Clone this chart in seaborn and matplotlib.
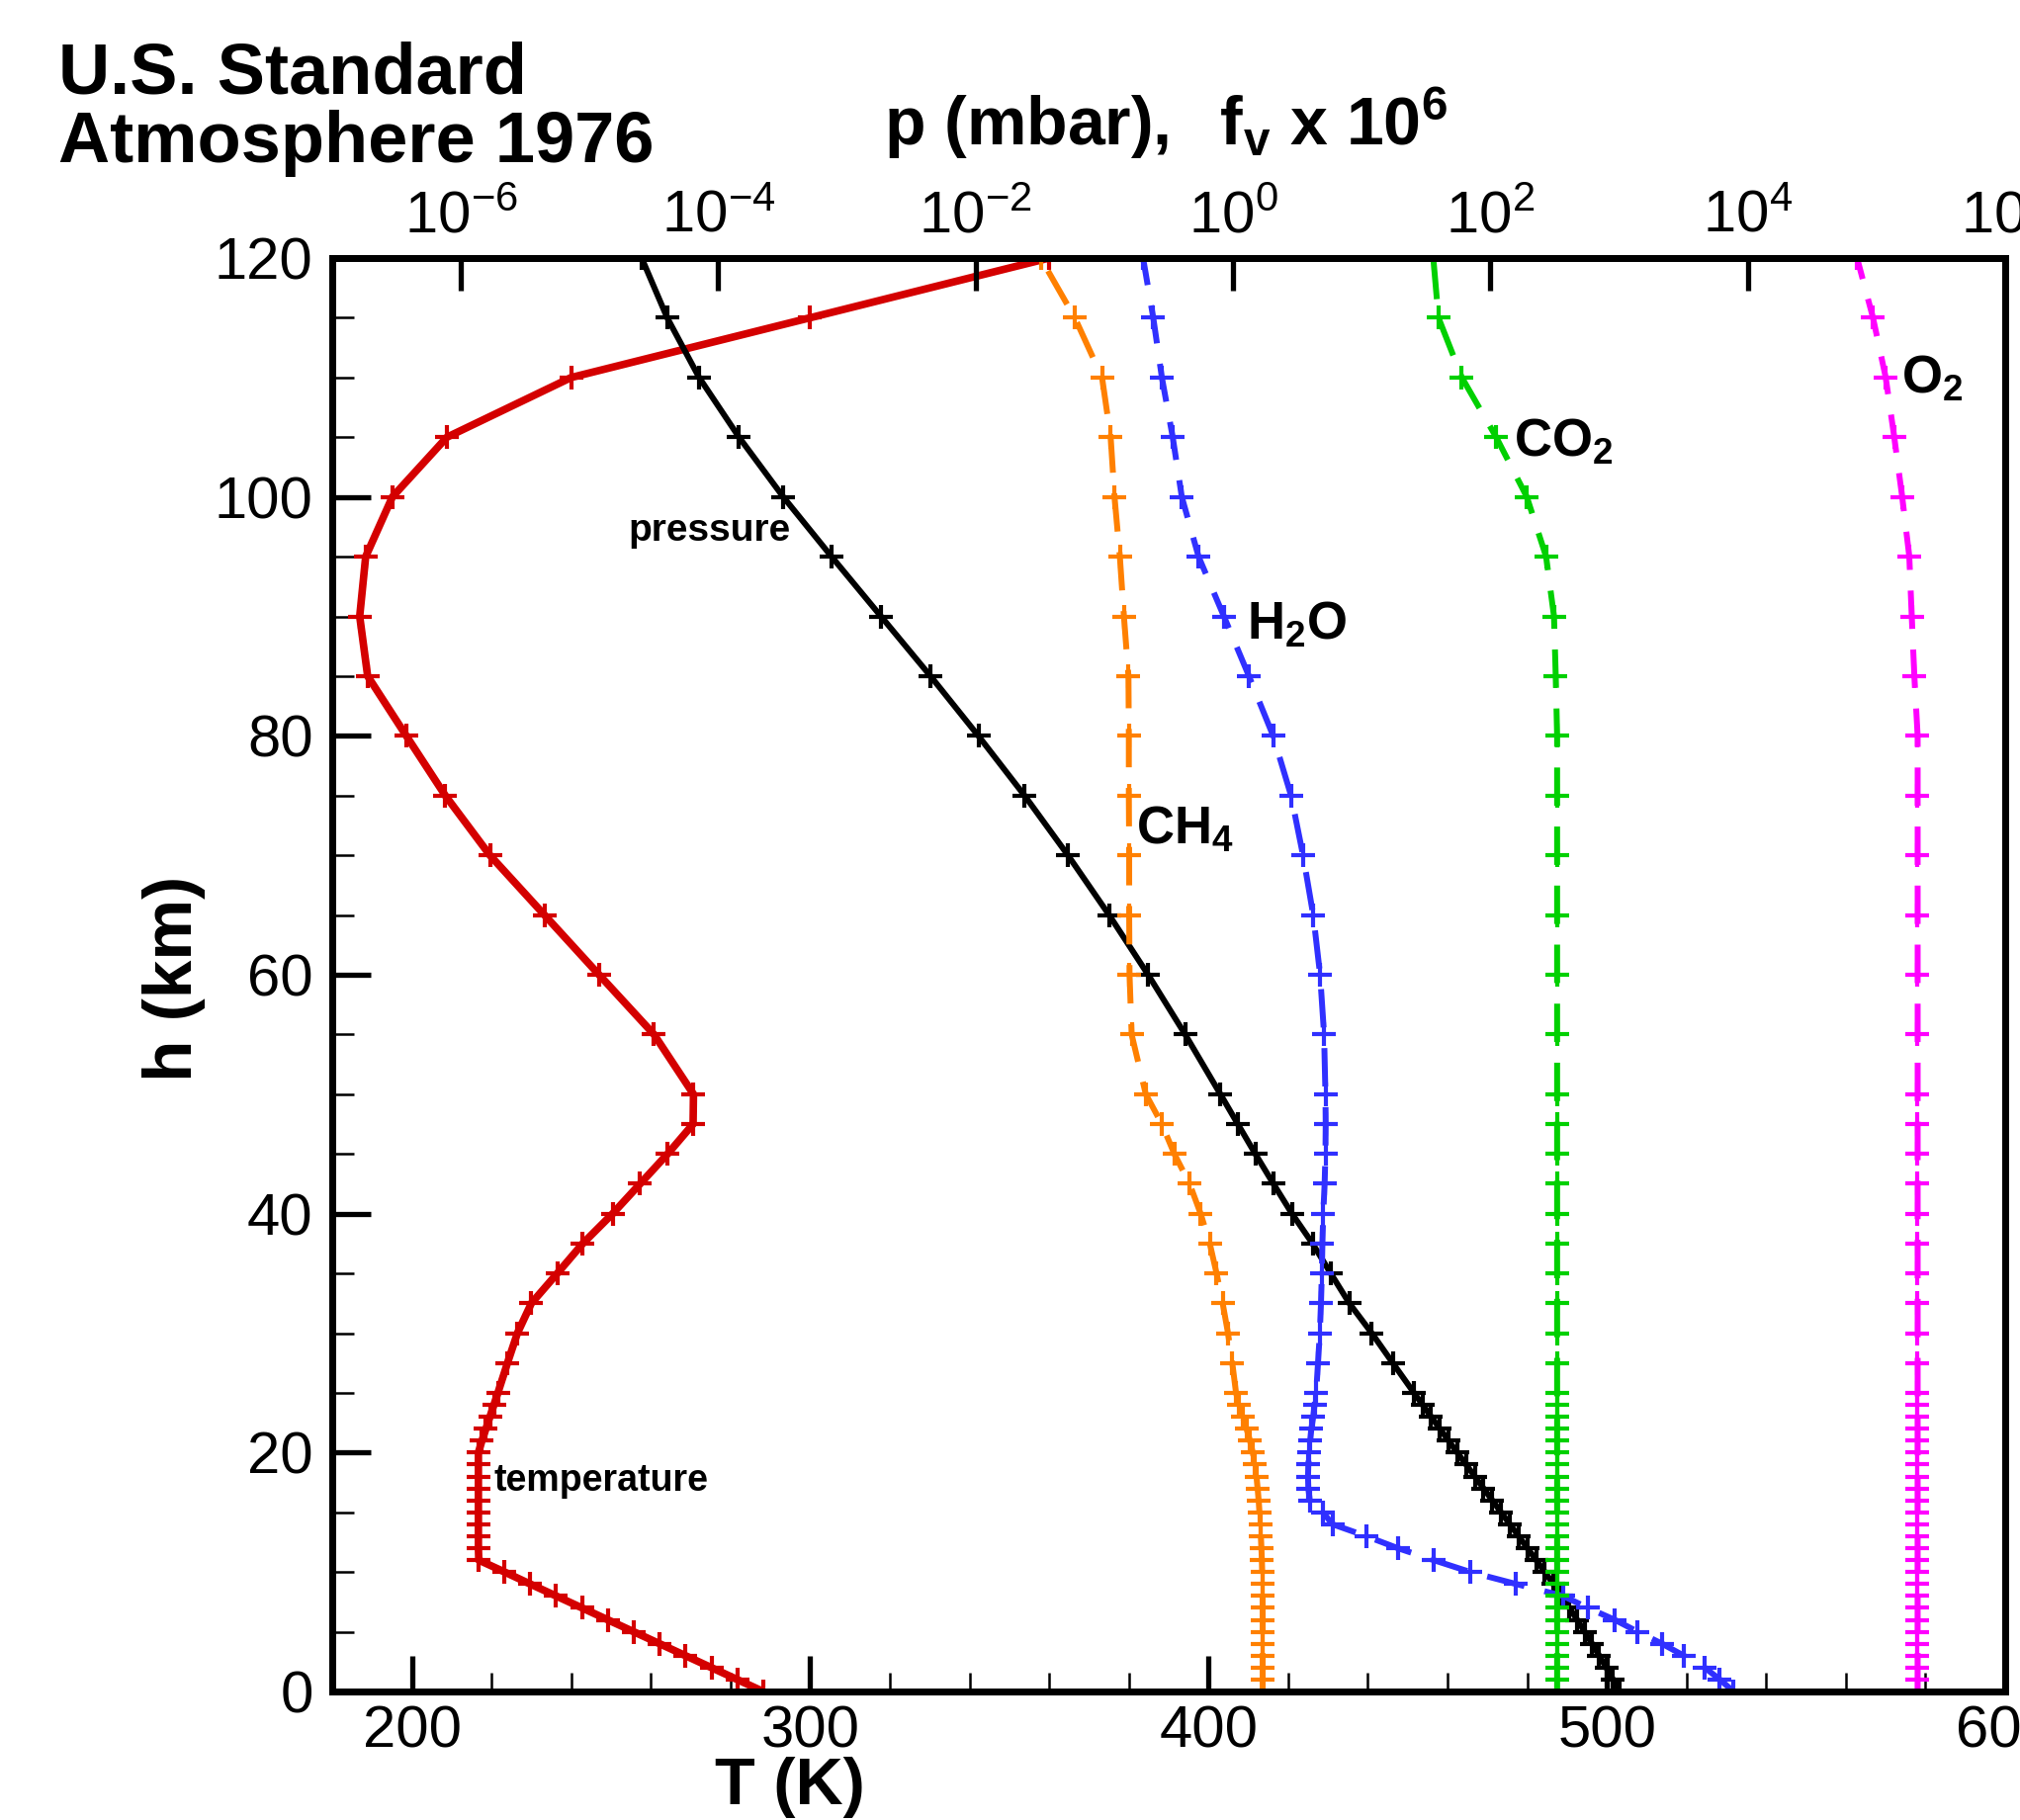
import math
import matplotlib
matplotlib.use("Agg")
import matplotlib.pyplot as plt
import matplotlib.ticker as mticker
import seaborn as sns

sns.set_style("ticks")
plt.rcParams['font.family'] = ['Liberation Sans', 'DejaVu Sans']
plt.rcParams['mathtext.fontset'] = 'custom'
plt.rcParams['mathtext.rm'] = 'Liberation Sans'
plt.rcParams['mathtext.bf'] = 'Liberation Sans:bold'
plt.rcParams['mathtext.it'] = 'Liberation Sans:italic'
plt.rcParams['mathtext.default'] = 'regular'
plt.rcParams['text.color'] = 'black'
plt.rcParams['xtick.color'] = 'black'
plt.rcParams['ytick.color'] = 'black'
plt.rcParams['axes.labelcolor'] = 'black'

# altitude grid (km)
h_km = [0, 1, 2, 3, 4, 5, 6, 7, 8, 9, 10, 11, 12, 13, 14, 15, 16, 17, 18, 19,
        20, 21, 22, 23, 24, 25, 27.5, 30, 32.5, 35, 37.5, 40, 42.5, 45, 47.5,
        50, 55, 60, 65, 70, 75, 80, 85, 90, 95, 100, 105, 110, 115, 120]

temp_K = [288.2, 281.7, 275.2, 268.7, 262.2, 255.7, 249.2, 242.7, 236.2, 229.7,
          223.3, 216.8, 216.7, 216.7, 216.7, 216.7, 216.7, 216.7, 216.7, 216.7,
          216.7, 217.6, 218.6, 219.6, 220.6, 221.6, 224.0, 226.5, 230.0, 236.5,
          242.9, 250.4, 257.3, 264.2, 270.6, 270.7, 260.8, 247.0, 233.3, 219.6,
          208.4, 198.6, 188.9, 186.9, 188.4, 195.1, 208.8, 240.0, 300.0, 360.0]

pressure_mbar = [1013, 898.6, 795.0, 701.2, 616.6, 540.5, 472.2, 411.1, 356.5,
                 308.0, 265.0, 227.0, 194.0, 165.8, 141.7, 121.1, 103.5, 88.5,
                 75.65, 64.67, 55.29, 47.29, 40.47, 34.67, 29.72, 25.49, 17.43,
                 11.97, 8.010, 5.746, 4.150, 2.871, 2.060, 1.491, 1.090, 0.7978,
                 0.4250, 0.2190, 0.1090, 0.0522, 0.0240, 0.0105, 0.00446,
                 0.00184, 0.00076, 0.00032, 0.000145, 0.000071, 0.0000401,
                 0.0000254]

h2o_ppmv = [7745, 6071, 4631, 3182, 2158, 1397, 925.4, 572.0, 366.7, 158.3,
            69.96, 36.13, 19.06, 10.85, 5.927, 5.000, 3.950, 3.850, 3.825,
            3.850, 3.900, 3.975, 4.065, 4.200, 4.300, 4.425, 4.575, 4.725,
            4.825, 4.900, 4.950, 5.025, 5.150, 5.225, 5.250, 5.225, 5.100,
            4.750, 4.200, 3.500, 2.825, 2.050, 1.330, 0.850, 0.540, 0.400,
            0.340, 0.280, 0.240, 0.200]

ch4_ppmv = [1.700, 1.700, 1.700, 1.700, 1.700, 1.700, 1.700, 1.699, 1.697,
            1.693, 1.685, 1.675, 1.662, 1.645, 1.626, 1.605, 1.582, 1.553,
            1.521, 1.480, 1.424, 1.355, 1.272, 1.191, 1.118, 1.055, 0.987,
            0.914, 0.831, 0.745, 0.660, 0.560, 0.460, 0.350, 0.280, 0.210,
            0.163, 0.157, 0.156, 0.156, 0.155, 0.155, 0.154, 0.142, 0.132,
            0.120, 0.112, 0.096, 0.059, 0.032]

co2_ppmv = [330, 330, 330, 330, 330, 330, 330, 330, 330, 330, 330, 330, 330,
            330, 330, 330, 330, 330, 330, 330, 330, 330, 330, 330, 330, 330,
            330, 330, 330, 330, 330, 330, 330, 330, 330, 330, 330, 330, 330,
            330, 330, 330, 322, 312, 271, 192, 111, 60, 39.5, 36]

o2_ppmv = [2.09e5, 2.09e5, 2.09e5, 2.09e5, 2.09e5, 2.09e5, 2.09e5, 2.09e5,
           2.09e5, 2.09e5, 2.09e5, 2.09e5, 2.09e5, 2.09e5, 2.09e5, 2.09e5,
           2.09e5, 2.09e5, 2.09e5, 2.09e5, 2.09e5, 2.09e5, 2.09e5, 2.09e5,
           2.09e5, 2.09e5, 2.09e5, 2.09e5, 2.09e5, 2.09e5, 2.09e5, 2.09e5,
           2.09e5, 2.09e5, 2.09e5, 2.09e5, 2.09e5, 2.09e5, 2.09e5, 2.09e5,
           2.09e5, 2.09e5, 1.97e5, 1.88e5, 1.80e5, 1.585e5, 1.375e5, 1.18e5,
           9.4e4, 7.07e4]

T_ticks = [200, 300, 400, 500, 600]
top_exponents = [-6, -4, -2, 0, 2, 4, 6]

RED = "#d40000"
ORANGE = "#ff8000"
BLUE = "#3030ff"
GREEN = "#00d000"
MAGENTA = "#ff00ff"
DASH = (0, (6.5, 3.5))

fig = plt.figure(figsize=(20.43, 18.41), dpi=100)
ax = fig.add_axes([0.16446, 0.07061, 0.82819, 0.78761])
ax2 = ax.twiny()
ax2.set_xscale("log")


def profile(axis, x, color, lw, ls="-"):
    sns.lineplot(x=x, y=h_km, ax=axis, orient="y", errorbar=None,
                 color=color, linewidth=lw, linestyle=ls,
                 marker="+", markersize=17, markeredgewidth=3.0,
                 markeredgecolor=color)


profile(ax, temp_K, RED, 5.5)
profile(ax2, pressure_mbar, "black", 4.3)
profile(ax2, ch4_ppmv, ORANGE, 4.3, DASH)
profile(ax2, h2o_ppmv, BLUE, 4.3, DASH)
profile(ax2, co2_ppmv, GREEN, 4.3, DASH)
profile(ax2, o2_ppmv, MAGENTA, 4.3, DASH)

ax.set_xlim(180, 600)
ax.set_ylim(0, 120)
ax2.set_xlim(1e-7, 1e6)
ax.set_xlabel("")
ax.set_ylabel("")
ax2.set_xlabel("")
ax2.set_ylabel("")

ax.xaxis.set_major_locator(mticker.FixedLocator(T_ticks))
ax.xaxis.set_minor_locator(mticker.MultipleLocator(20))
ax.yaxis.set_major_locator(mticker.MultipleLocator(20))
ax.yaxis.set_minor_locator(mticker.MultipleLocator(5))
ax2.xaxis.set_major_locator(mticker.FixedLocator([10.0 ** e for e in top_exponents]))
ax2.xaxis.set_minor_locator(mticker.NullLocator())
ax2.xaxis.set_major_formatter(mticker.FuncFormatter(
    lambda v, pos: r"$\mathdefault{10^{%d}}$" % round(math.log10(v))))

ax.tick_params(axis="x", which="major", direction="in", length=26, width=3.8,
               labelsize=43, pad=10, top=False)
ax.tick_params(axis="x", which="minor", direction="in", length=14, width=1.8, top=False)
ax.tick_params(axis="y", which="major", direction="in", length=28, width=3.8,
               labelsize=43, pad=14, right=False)
ax.tick_params(axis="y", which="minor", direction="in", length=16, width=1.8, right=False)
ax2.tick_params(axis="x", which="major", direction="in", length=24, width=3.8,
                labelsize=43, pad=10)

for a in (ax, ax2):
    for s in a.spines.values():
        s.set_linewidth(5)
        s.set_color("black")

# curve annotations
ax.text(274.6, 97.2, "pressure", fontsize=28, fontweight="bold", ha="center", va="center")
ax.text(247.5, 17.6, "temperature", fontsize=27, fontweight="bold", ha="center", va="center")
ax2.text(1.28, 89.3, r"$\mathbf{H_2O}$", fontsize=38, ha="left", va="center")
ax2.text(0.177, 72.1, r"$\mathbf{CH_4}$", fontsize=38, ha="left", va="center")
ax2.text(151, 104.6, r"$\mathbf{CO_2}$", fontsize=38, ha="left", va="center")
ax2.text(1.56e5, 109.9, r"$\mathbf{O_2}$", fontsize=38, ha="left", va="center")

# titles and axis labels
fig.text(0.0289, 0.9484, "U.S. Standard", fontsize=52, fontweight="bold", va="baseline")
fig.text(0.0289, 0.9109, "Atmosphere 1976", fontsize=52, fontweight="bold", va="baseline")
fig.text(0.4376, 0.9202, r"$\mathbf{p\ (mbar),\ \ f_v\ x\ 10^6}$", fontsize=49,
         va="baseline", ha="left")
fig.text(0.391, 0.0085, "T (K)", fontsize=48, fontweight="bold", ha="center", va="baseline")
fig.text(0.0861, 0.4622, "h (km)", fontsize=50, fontweight="bold", rotation=90,
         ha="center", va="center")

fig.savefig("out.png", dpi=100)
